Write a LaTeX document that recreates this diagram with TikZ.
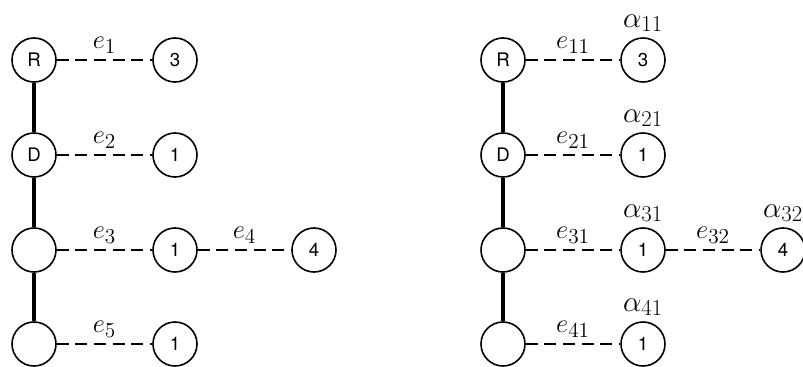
\documentclass[tikz,border=0pt]{standalone}
\usepackage{fix-cm}
\usepackage{fontspec}
\setsansfont{TeX Gyre Heros}
% larger subscripts for the edge and weight labels
\DeclareMathSizes{20}{20}{16}{12}
\DeclareMathSizes{22}{22}{17}{13}
\begin{document}
\begin{tikzpicture}[x=0.75pt,y=-0.75pt,
  vtx/.style={circle,draw,line width=1.2pt,minimum size=33pt,inner sep=0pt,
    font=\sffamily\fontsize{14}{16}\selectfont},
  spine/.style={line width=3.3pt},
  link/.style={line width=1.9pt,dash pattern=on 9pt off 5pt},
  elab/.style={midway,above=4pt,inner sep=0pt,font=\fontsize{20}{24}\selectfont},
  alab/.style={above=4pt,inner sep=0pt,font=\fontsize{22}{26}\selectfont}]
\useasboundingbox (0,0) rectangle (803,367);

% left tree
\node[vtx] (lR) at (34,60) {R};
\node[vtx] (lD) at (34,155) {D};
\node[vtx] (lC) at (34,250) {};
\node[vtx] (lE) at (34,344) {};
\node[vtx] (l1) at (175,60) {3};
\node[vtx] (l2) at (175,155) {1};
\node[vtx] (l3) at (175,250) {1};
\node[vtx] (l4) at (314,250) {4};
\node[vtx] (l5) at (175,344) {1};
\draw[spine] (lR) -- (lD);
\draw[spine] (lD) -- (lC);
\draw[spine] (lC) -- (lE);
\draw[link] (lR) -- node[elab] {$e_1$} (l1);
\draw[link] (lD) -- node[elab] {$e_2$} (l2);
\draw[link] (lC) -- node[elab] {$e_3$} (l3);
\draw[link] (l3) -- node[elab] {$e_4$} (l4);
\draw[link] (lE) -- node[elab] {$e_5$} (l5);

% right tree
\node[vtx] (rR) at (503,60) {R};
\node[vtx] (rD) at (503,155) {D};
\node[vtx] (rC) at (503,250) {};
\node[vtx] (rE) at (503,344) {};
\node[vtx] (r11) at (643,60) {3};
\node[vtx] (r21) at (643,155) {1};
\node[vtx] (r31) at (643,250) {1};
\node[vtx] (r32) at (783,250) {4};
\node[vtx] (r41) at (643,344) {1};
\draw[spine] (rR) -- (rD);
\draw[spine] (rD) -- (rC);
\draw[spine] (rC) -- (rE);
\draw[link] (rR) -- node[elab] {$e_{11}$} (r11);
\draw[link] (rD) -- node[elab] {$e_{21}$} (r21);
\draw[link] (rC) -- node[elab] {$e_{31}$} (r31);
\draw[link] (r31) -- node[elab] {$e_{32}$} (r32);
\draw[link] (rE) -- node[elab] {$e_{41}$} (r41);
\node[alab] (a11) at (r11.north) {$\alpha_{11}$};
\node[alab] (a21) at (r21.north) {$\alpha_{21}$};
\node[alab] (a31) at (r31.north) {$\alpha_{31}$};
\node[alab] (a32) at (r32.north) {$\alpha_{32}$};
\node[alab] (a41) at (r41.north) {$\alpha_{41}$};
\end{tikzpicture}
\end{document}
